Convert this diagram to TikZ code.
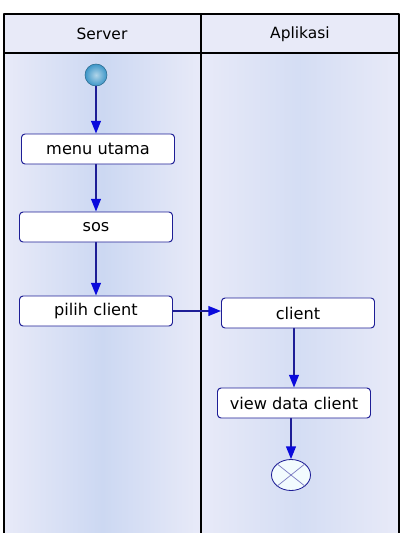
\documentclass[tikz,border=0pt]{standalone}
\usepackage{fontspec}
\setmainfont{DejaVu Sans}
\usepackage{tikz}
\usetikzlibrary{arrows.meta, shapes.geometric}

\definecolor{laneback}{RGB}{232,234,248}
\definecolor{laneblue}{RGB}{204,216,242}
\definecolor{flowline}{RGB}{30,30,150}
\definecolor{flowtip}{RGB}{10,10,220}
\definecolor{startblue}{RGB}{60,150,200}

\begin{document}
\begin{tikzpicture}[
    x=0.025cm, y=-0.025cm,
    line cap=round,
    line join=round,
    activity/.style={draw=flowline, fill=white, rounded corners=2.5pt, line width=0.7pt,
        minimum width=153*0.025cm, minimum height=30*0.025cm, inner sep=0pt,
        font=\fontsize{11.5}{13}\selectfont},
    flow/.style={draw=flowline, line width=1pt,
        -{Triangle[color=flowtip, length=9pt, width=7pt]}},
    lanetitle/.style={font=\fontsize{11}{13}\selectfont}
]
\useasboundingbox (0,0) rectangle (401,533);

% lanes
\def\lanetop{53}
\def\lanebottom{533}
\shade[left color=laneback, right color=laneback, middle color=laneblue] (4,\lanetop) rectangle (201,\lanebottom);
\shade[left color=laneback, right color=laneback, middle color=laneblue!70!laneback] (201,\lanetop) rectangle (399,\lanebottom);
\fill[laneback] (4,14) rectangle (399,\lanetop);
\draw[line width=0.8pt] (4,\lanebottom) -- (4,14) -- (399,14) -- (399,\lanebottom);
\draw[line width=0.8pt] (4,\lanetop) -- (399,\lanetop);
\draw[line width=0.8pt] (201,14) -- (201,\lanebottom);

\node[lanetitle] (server) at (102,34) {Server};
\node[lanetitle] (aplikasi) at (300,34) {Aplikasi};

% activities
\node[circle, draw=startblue!70!black, line width=0.4pt, inner color=startblue!40, outer color=startblue, minimum size=22*0.025cm, inner sep=0pt] (start) at (96,75) {};
\node[activity] (menu) at (98,149) {menu utama};
\node[activity] (sos) at (96,227) {sos};
\node[activity] (pilih) at (96,311) {pilih client};
\node[activity] (client) at (298,313) {client};
\node[activity] (view) at (294,403) {view data client};
\node[ellipse, draw=flowline, fill=cyan!5, line width=0.6pt, minimum width=39*0.025cm, minimum height=31*0.025cm, inner sep=0pt] (stop) at (291,475) {};
\draw[flowline!60, line width=0.5pt] (stop.north west) -- (stop.south east);
\draw[flowline!60, line width=0.5pt] (stop.south west) -- (stop.north east);

% flows
\draw[flow] (start) -- (start |- menu.north);
\draw[flow] (menu.south -| sos) -- (sos);
\draw[flow] (sos) -- (pilih);
\draw[flow] (pilih) -- (pilih -| client.west);
\draw[flow] (client.south -| view) -- (view);
\draw[flow] (view.south -| stop) -- (stop);

\end{tikzpicture}
\end{document}
